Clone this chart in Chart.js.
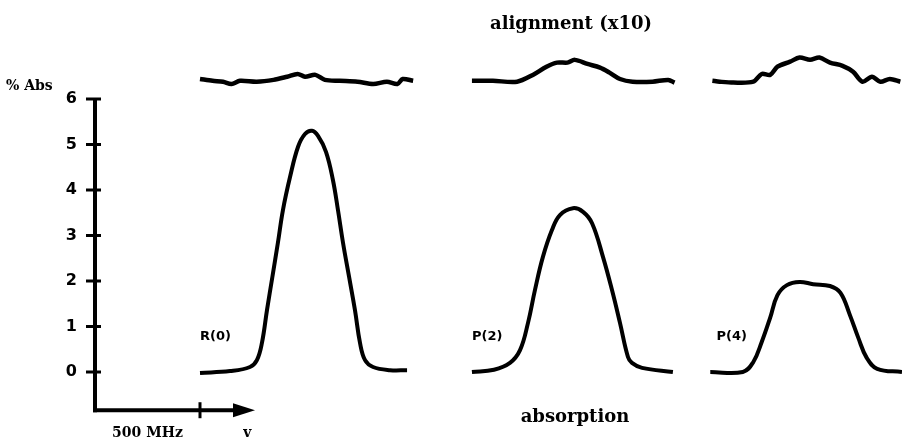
<!DOCTYPE html>
<html>
<head>
<meta charset="utf-8">
<title>Alignment and absorption</title>
<script src="https://cdn.jsdelivr.net/npm/chart.js@4.4.1/dist/chart.umd.min.js"></script>
<style>
  html, body { margin: 0; padding: 0; background: #fff; }
  #wrap { width: 902px; height: 441px; }
</style>
</head>
<body>
<div id="wrap"><canvas id="chart" width="902" height="441"></canvas></div>
<script>
/* ---------- Data ---------- */
// frequency offsets in MHz, absorption in % Abs
const r0Freq = [500, 643, 738, 771, 795, 819, 845, 871, 895, 929, 967, 1000, 1033, 1062, 1100, 1133, 1157, 1181, 1210, 1238, 1262, 1286, 1324, 1405, 1486];
const r0Abs  = [-0.02, 0.02, 0.11, 0.26, 0.64, 1.36, 2.1, 2.84, 3.56, 4.29, 4.95, 5.23, 5.3, 5.19, 4.84, 4.22, 3.56, 2.84, 2.09, 1.36, 0.64, 0.26, 0.11, 0.04, 0.04];

const p2Freq = [1795, 1900, 1976, 2024, 2062, 2095, 2133, 2176, 2214, 2276, 2324, 2367, 2419, 2462, 2500, 2538, 2557, 2605, 2752];
const p2Abs  = [0, 0.05, 0.2, 0.48, 1.08, 1.8, 2.53, 3.12, 3.45, 3.6, 3.52, 3.27, 2.53, 1.8, 1.08, 0.33, 0.2, 0.09, 0];

const p4Freq = [2930, 3085, 3135, 3175, 3215, 3250, 3295, 3355, 3420, 3500, 3550, 3595, 3635, 3675, 3725, 3843];
const p4Abs  = [0, 0, 0.22, 0.66, 1.19, 1.69, 1.91, 1.98, 1.93, 1.89, 1.74, 1.25, 0.75, 0.31, 0.07, 0];

// alignment signal (x10), arbitrary units
const a0Freq = [500, 560, 610, 650, 690, 770, 850, 915, 965, 1000, 1050, 1095, 1165, 1250, 1325, 1390, 1440, 1465, 1515];
const a0Sig  = [0.4, 0, -0.2, -0.7, 0, -0.2, 0.2, 0.9, 1.5, 0.9, 1.3, 0.2, 0, -0.2, -0.7, -0.2, -0.7, 0.4, 0];

const a2Freq = [1795, 1895, 2010, 2085, 2150, 2200, 2250, 2285, 2345, 2405, 2450, 2500, 2560, 2655, 2730, 2760];
const a2Sig  = [0, 0, -0.2, 1.3, 3.1, 4.0, 4.0, 4.6, 3.7, 2.9, 1.8, 0.4, -0.2, -0.2, 0.2, -0.4];

const a4Freq = [2940, 2975, 3040, 3135, 3175, 3215, 3250, 3310, 3355, 3405, 3450, 3500, 3560, 3610, 3655, 3700, 3740, 3785, 3835];
const a4Sig  = [0, -0.2, -0.4, -0.2, 1.5, 1.3, 3.1, 4.2, 5.1, 4.6, 5.1, 4.0, 3.3, 2.0, -0.2, 0.9, -0.2, 0.4, -0.2];

const yTickValues = [0, 1, 2, 3, 4, 5, 6];
const freqStep = 500;

/* ---------- Helpers ---------- */
function pts(xs, ys) {
  return xs.map((x, i) => ({ x, y: ys[i] }));
}

function absTrace(xs, ys) {
  return {
    data: pts(xs, ys),
    yAxisID: "y",
    borderColor: "#000",
    borderWidth: 4,
    pointRadius: 0,
    tension: 0.4,
    fill: false,
    clip: false,
  };
}

function alignTrace(xs, ys) {
  return {
    data: pts(xs, ys),
    yAxisID: "yAlign",
    borderColor: "#000",
    borderWidth: 4.5,
    pointRadius: 0,
    tension: 0.3,
    fill: false,
    clip: false,
  };
}

/* ---------- Axes + annotations plugin ---------- */
const decor = {
  id: "decor",
  afterDatasetsDraw(chart) {
    const { ctx } = chart;
    const xs = chart.scales.x;
    const ys = chart.scales.y;
    const ax = xs.getPixelForValue(0);
    const top = ys.getPixelForValue(6);
    const bottom = ys.getPixelForValue(-0.84);
    const tip = xs.getPixelForValue(762);

    ctx.save();
    ctx.strokeStyle = "#000";
    ctx.fillStyle = "#000";
    ctx.lineCap = "butt";

    // vertical axis
    ctx.lineWidth = 4;
    ctx.beginPath();
    ctx.moveTo(ax, top - 1);
    ctx.lineTo(ax, bottom + 2);
    ctx.stroke();

    // y tick crosses
    ctx.lineWidth = 3;
    yTickValues.forEach((v) => {
      const py = ys.getPixelForValue(v);
      ctx.beginPath();
      ctx.moveTo(ax - 9, py);
      ctx.lineTo(ax + 6, py);
      ctx.stroke();
    });

    // horizontal frequency axis with arrow
    ctx.lineWidth = 4;
    ctx.beginPath();
    ctx.moveTo(ax - 2, bottom);
    ctx.lineTo(tip - 18, bottom);
    ctx.stroke();
    ctx.beginPath();
    ctx.moveTo(tip, bottom);
    ctx.lineTo(tip - 22, bottom - 7);
    ctx.lineTo(tip - 22, bottom + 7);
    ctx.closePath();
    ctx.fill();

    const tx = xs.getPixelForValue(freqStep);
    ctx.lineWidth = 3;
    ctx.beginPath();
    ctx.moveTo(tx, bottom - 8);
    ctx.lineTo(tx, bottom + 8);
    ctx.stroke();

    // texts
    ctx.textBaseline = "middle";
    ctx.textAlign = "left";
    ctx.font = "bold 14px 'DejaVu Serif', serif";
    ctx.fillText("% Abs", 6, 86);

    ctx.font = "bold 13px 'DejaVu Sans', sans-serif";
    const ly = ys.getPixelForValue(0.77);
    ctx.fillText("R(0)", xs.getPixelForValue(500), ly);
    ctx.fillText("P(2)", xs.getPixelForValue(1795), ly);
    ctx.fillText("P(4)", xs.getPixelForValue(2960), ly);

    ctx.textAlign = "center";
    ctx.font = "bold 18px 'DejaVu Serif', serif";
    ctx.fillText("alignment (x10)", 571, 24);
    ctx.fillText("absorption", 575, 417);

    ctx.font = "bold 14px 'DejaVu Serif', serif";
    ctx.textBaseline = "top";
    ctx.fillText("500 MHz", (ax + tx) / 2, 426);
    ctx.fillText("v", xs.getPixelForValue(725), 426);
    ctx.restore();
  },
};

/* ---------- Chart ---------- */
const chart = new Chart(document.getElementById("chart"), {
  type: "line",
  data: {
    datasets: [
      absTrace(r0Freq, r0Abs),
      absTrace(p2Freq, p2Abs),
      absTrace(p4Freq, p4Abs),
      alignTrace(a0Freq, a0Sig),
      alignTrace(a2Freq, a2Sig),
      alignTrace(a4Freq, a4Sig),
    ],
  },
  options: {
    responsive: false,
    animation: false,
    layout: { padding: { top: 8, bottom: 23.5, left: 0, right: 0 } },
    plugins: {
      legend: { display: false },
      tooltip: { enabled: false },
    },
    scales: {
      x: {
        type: "linear",
        min: 0,
        max: 3843,
        display: false,
      },
      y: {
        type: "linear",
        position: "left",
        min: -1,
        max: 8,
        afterBuildTicks: (scale) => {
          scale.ticks = yTickValues.map((v) => ({ value: v }));
        },
        afterFit: (scale) => {
          scale.width = 95;
          scale.paddingTop = 0;
          scale.paddingBottom = 0;
        },
        grid: { display: false, drawTicks: false },
        border: { display: false },
        ticks: {
          color: "#000",
          padding: 18,
          font: { family: "'DejaVu Sans', sans-serif", size: 16, weight: "bold" },
        },
      },
      yAlign: {
        type: "linear",
        position: "left",
        min: -74,
        max: 16,
        display: false,
      },
    },
  },
  plugins: [decor],
});
</script>
</body>
</html>
